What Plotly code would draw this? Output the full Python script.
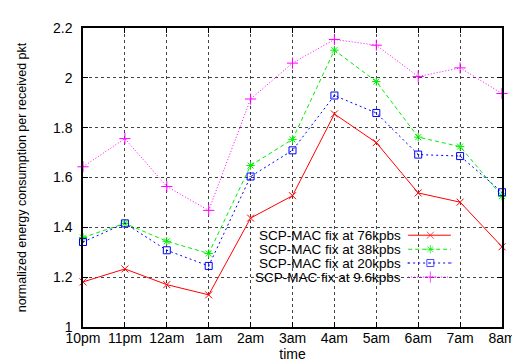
import plotly.graph_objects as go

categories = ["10pm", "11pm", "12am", "1am", "2am", "3am", "4am", "5am", "6am", "7am", "8am"]
scp_76 = [1.181, 1.233, 1.170, 1.129, 1.437, 1.527, 1.855, 1.740, 1.538, 1.501, 1.322]
scp_38 = [1.359, 1.416, 1.344, 1.295, 1.648, 1.753, 2.111, 1.985, 1.762, 1.724, 1.525]
scp_20 = [1.341, 1.416, 1.308, 1.245, 1.604, 1.709, 1.929, 1.859, 1.692, 1.686, 1.541]
scp_96 = [1.643, 1.756, 1.564, 1.468, 1.915, 2.059, 2.154, 2.131, 2.005, 2.040, 1.937]
series_names = ["SCP-MAC fix at 76kpbs", "SCP-MAC fix at 38kpbs",
                "SCP-MAC fix at 20kpbs", "SCP-MAC fix at 9.6kpbs"]
y_ticks = [1, 1.2, 1.4, 1.6, 1.8, 2, 2.2]
y_ticklabels = ["1", "1.2", "1.4", "1.6", "1.8", "2", "2.2"]

styles = [
    dict(color="#ff0000", dash="solid", symbol="x-thin-open", size=7),
    dict(color="#00ee00", dash="4px,3px", symbol="asterisk-open", size=7),
    dict(color="#0000ff", dash="2px,3px", symbol="square-open-dot", size=7),
    dict(color="#ff00ff", dash="1px,2px", symbol="cross-thin-open", size=8),
]

FONT = "Liberation Sans, Arial, sans-serif"
fig = go.Figure()
for name, vals, st in zip(series_names, [scp_76, scp_38, scp_20, scp_96], styles):
    fig.add_trace(go.Scatter(
        x=categories, y=vals, mode="lines+markers", name=name,
        line=dict(color=st["color"], width=1, dash=st["dash"]),
        marker=dict(symbol=st["symbol"], size=st["size"], color=st["color"],
                    line=dict(color=st["color"], width=1)),
        showlegend=False, cliponaxis=False,
    ))

# manual gnuplot-style legend (text left, sample right)
leg_rows = [0.307, 0.260, 0.214, 0.167]
for name, st, yr in zip(series_names, styles, leg_rows):
    fig.add_annotation(xref="paper", yref="paper", x=0.762, y=yr, text=name,
                       showarrow=False, xanchor="right", yanchor="middle",
                       borderpad=0,
                       font=dict(family=FONT, size=13.5, color="black"))
    fig.add_trace(go.Scatter(
        x=[0.776, 0.829, 0.878], y=[yr, yr, yr], xaxis="x2", yaxis="y2",
        mode="lines+markers", showlegend=False, hoverinfo="skip",
        line=dict(color=st["color"], width=1, dash=st["dash"]),
        marker=dict(symbol=st["symbol"], size=[0, st["size"], 0], color=st["color"],
                    line=dict(color=st["color"], width=1)),
    ))

grid = dict(showgrid=True, gridcolor="#444444", griddash="dot", gridwidth=1)
fig.update_layout(
    width=520, height=363,
    margin=dict(l=74, r=21, t=13, b=44),
    paper_bgcolor="white", plot_bgcolor="white",
    font=dict(family=FONT, size=14, color="black"),
    xaxis=dict(type="category", categoryorder="array", categoryarray=categories,
               range=[0, 10], showline=True, linecolor="black", linewidth=1.5,
               mirror="ticks", ticks="inside", ticklen=5, tickcolor="black",
               ticklabelstandoff=-3,
               title=dict(text="time", font=dict(size=14), standoff=4),
               tickfont=dict(size=14), zeroline=False, **grid),
    yaxis=dict(range=[1, 2.2], tickvals=y_ticks, ticktext=y_ticklabels,
               showline=True, linecolor="black", linewidth=1.5,
               mirror="ticks", ticks="inside", ticklen=5, tickcolor="black",
               ticklabelstandoff=6,
               title=dict(text="normalized energy consumption per received pkt",
                          font=dict(size=12.5), standoff=24),
               tickfont=dict(size=14), zeroline=False, **grid),
    xaxis2=dict(overlaying="x", range=[0, 1], visible=False, fixedrange=True),
    yaxis2=dict(overlaying="y", range=[0, 1], visible=False, fixedrange=True),
)

fig.write_html("out.html")
